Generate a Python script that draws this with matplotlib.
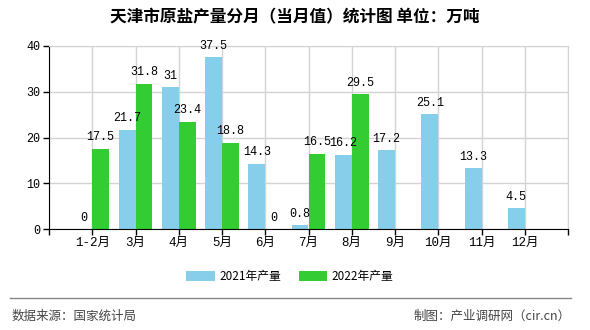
import matplotlib
matplotlib.use("Agg")
import matplotlib.pyplot as plt
import numpy as np

months = ["1-2月", "3月", "4月", "5月", "6月", "7月", "8月", "9月", "10月", "11月", "12月"]
v2021 = [0, 21.7, 31, 37.5, 14.3, 0.8, 16.2, 17.2, 25.1, 13.3, 4.5]
v2022 = [17.5, 31.8, 23.4, 18.8, 0, 16.5, 29.5]
series_names = ["2021年产量", "2022年产量"]
yticks = [0, 10, 20, 30, 40]

FAM = ["Liberation Mono", "Noto Sans CJK SC"]
CJK = ["Noto Sans CJK SC", "DejaVu Sans"]

fig = plt.figure(figsize=(5.9, 3.3), dpi=100)
ax = fig.add_axes([49/590, 1-229/330, (568-49)/590, (229-46)/330])

x = np.arange(len(months))
w = 0.39
b1 = ax.bar(x[:len(v2021)] - w/2, v2021, width=w, color="#87CEEB", label=series_names[0], zorder=2)
b2 = ax.bar(x[:len(v2022)] + w/2, v2022, width=w, color="#33CC33", label=series_names[1], zorder=2)

for rect, v in zip(b1, v2021):
    ax.text(rect.get_x() + rect.get_width()/2, v + 1.2, f"{v:g}", ha="center", va="bottom",
            fontsize=8.5, family=FAM, zorder=3)
for rect, v in zip(b2, v2022):
    ax.text(rect.get_x() + rect.get_width()/2, v + 1.2, f"{v:g}", ha="center", va="bottom",
            fontsize=8.5, family=FAM, zorder=3)

ax.set_xlim(-1, len(months))
ax.set_ylim(0, 40)
ax.set_yticks(yticks)
ax.set_yticklabels([str(t) for t in yticks], family=FAM, fontsize=8.5)
ax.set_xticks(np.arange(-1, len(months) + 1))
ax.set_xticklabels([""] + months + [""], family=FAM, fontsize=9)
ax.tick_params(axis="x", length=4, width=1, color="black", pad=2)
ax.tick_params(axis="y", length=4, width=1, color="black", pad=2)
ax.grid(True, color="#d3d3d3", linewidth=1, zorder=0)
ax.set_axisbelow(True)
ax.spines["left"].set_color("black")
ax.spines["bottom"].set_color("black")
ax.spines["top"].set_color("#d3d3d3")
ax.spines["right"].set_color("#d3d3d3")

fig.text(295/590, 1-17/330, "天津市原盐产量分月（当月值）统计图 单位：万吨", ha="center", va="center",
         fontsize=12, fontweight="bold", family=CJK)

leg = fig.legend(handles=[b1, b2], loc="center", bbox_to_anchor=(290/590, 1-276.5/330), ncol=2,
                 frameon=False, prop={"family": CJK, "size": 8.5}, handlelength=2.4, handleheight=0.9,
                 columnspacing=1.5, handletextpad=0.4)

fig.add_artist(plt.Line2D([10/590, 571/590], [1-297.5/330, 1-297.5/330], color="#888888", linewidth=1))
fig.text(12/590, 1-316/330, "数据来源：国家统计局", ha="left", va="center", fontsize=9, family=CJK, color="#444444")
fig.text(571/590, 1-316/330, "制图：产业调研网（cir.cn）", ha="right", va="center", fontsize=9, family=CJK, color="#444444")

fig.savefig("out.png", dpi=100)
